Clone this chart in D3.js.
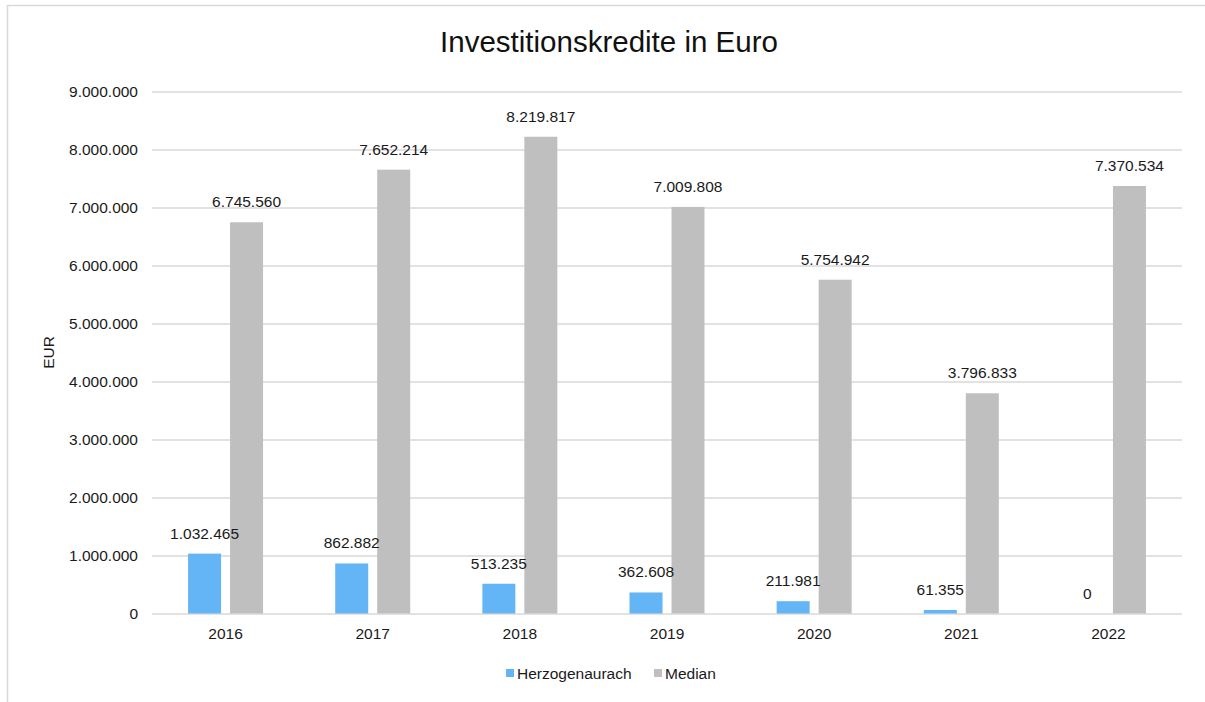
<!DOCTYPE html>
<html>
<head>
<meta charset="utf-8">
<script src="https://cdn.jsdelivr.net/npm/d3@7"></script>
<style>
  html, body { margin: 0; padding: 0; background: #fff; overflow: hidden; }
  svg { display: block; font-family: "Liberation Sans", Arial, sans-serif; }
</style>
</head>
<body>
<svg id="chart" width="1205" height="702"></svg>
<script>
// Years on the x axis
const years = ["2016", "2017", "2018", "2019", "2020", "2021", "2022"];
// Investment loans in EUR
const herzogenaurach = [1032465, 862882, 513235, 362608, 211981, 61355, 0];
const median = [6745560, 7652214, 8219817, 7009808, 5754942, 3796833, 7370534];
// Series names for the legend
const seriesNames = ["Herzogenaurach", "Median"];
const seriesColors = ["#64B5F6", "#BFBFBF"];
// Y axis ticks
const yTicks = [0, 1000000, 2000000, 3000000, 4000000, 5000000, 6000000, 7000000, 8000000, 9000000];

const fmt = v => d3.format(",")(v).replace(/,/g, ".");
const FONT = "'Liberation Sans', Arial, sans-serif";

const svg = d3.select("#chart");
const W = 1205, H = 702;
const margin = { left: 152, right: 23, top: 91.5, bottom: 88.5 };
const innerW = W - margin.left - margin.right;
const innerH = H - margin.top - margin.bottom;

// Chart frame: left and top edges
svg.append("line")
  .attr("x1", 7.5).attr("y1", 5).attr("x2", 7.5).attr("y2", H)
  .attr("stroke", "#D9D9D9").attr("stroke-width", 1.5);
svg.append("line")
  .attr("x1", 7).attr("y1", 5.5).attr("x2", W).attr("y2", 5.5)
  .attr("stroke", "#D9D9D9").attr("stroke-width", 1.5);

const g = svg.append("g").attr("transform", `translate(${margin.left},${margin.top})`);

const x = d3.scaleBand().domain(years).range([0, innerW]).paddingInner(0).paddingOuter(0);
const y = d3.scaleLinear().domain([0, 9000000]).range([innerH, 0]);

// Gridlines and y tick labels
const yAxis = d3.axisLeft(y).tickValues(yTicks).tickSize(-innerW).tickFormat(fmt).tickPadding(14);
const ya = g.append("g").call(yAxis);
ya.select(".domain").remove();
ya.selectAll(".tick line").attr("stroke", "#D9D9D9").attr("stroke-width", 1.5);
ya.selectAll(".tick text").attr("font-size", 15.5).attr("fill", "#1a1a1a").attr("font-family", FONT);

// X axis labels
const xAxis = d3.axisBottom(x).tickSize(0).tickPadding(14);
const xa = g.append("g").attr("transform", `translate(0,${innerH})`).call(xAxis);
xa.select(".domain").remove();
xa.selectAll(".tick text").attr("font-size", 15.5).attr("fill", "#1a1a1a").attr("font-family", FONT);

// Bars within each year
const barW = 33, gap = 9;
const groupW = barW * 2 + gap;
const sub = d3.scaleOrdinal().domain([0, 1]).range([0, barW + gap]);
const series = [herzogenaurach, median];
const barX = (si, i) => x(years[i]) + (x.bandwidth() - groupW) / 2 + sub(si);

const barsLayer = g.append("g");
const labelsLayer = g.append("g");

series.forEach((vals, si) => {
  barsLayer.append("g").selectAll("rect").data(vals).join("rect")
    .attr("x", (d, i) => barX(si, i))
    .attr("y", d => y(d))
    .attr("width", barW)
    .attr("height", d => innerH - y(d))
    .attr("fill", seriesColors[si]);
  labelsLayer.append("g").selectAll("text").data(vals).join("text")
    .attr("x", (d, i) => barX(si, i) + barW / 2)
    .attr("y", d => y(d) - 15)
    .attr("text-anchor", "middle")
    .attr("font-size", 15.5)
    .attr("fill", "#1a1a1a")
    .text(d => fmt(d));
});

// Title
svg.append("text")
  .attr("x", 609).attr("y", 52)
  .attr("text-anchor", "middle")
  .attr("font-size", 29.5)
  .attr("fill", "#111")
  .text("Investitionskredite in Euro");

// Y axis title
svg.append("text")
  .attr("transform", `translate(54,${margin.top + innerH / 2}) rotate(-90)`)
  .attr("text-anchor", "middle")
  .attr("font-size", 15.5)
  .attr("fill", "#1a1a1a")
  .text("EUR");

// Legend
const legend = svg.append("g");
const legendItems = [{ x: 506, tx: 517 }, { x: 654, tx: 665 }];
seriesNames.forEach((name, i) => {
  legend.append("rect")
    .attr("x", legendItems[i].x).attr("y", 669)
    .attr("width", 8).attr("height", 8)
    .attr("fill", seriesColors[i]);
  legend.append("text")
    .attr("x", legendItems[i].tx).attr("y", 679)
    .attr("font-size", 15.5)
    .attr("fill", "#1a1a1a")
    .text(name);
});
</script>
</body>
</html>
